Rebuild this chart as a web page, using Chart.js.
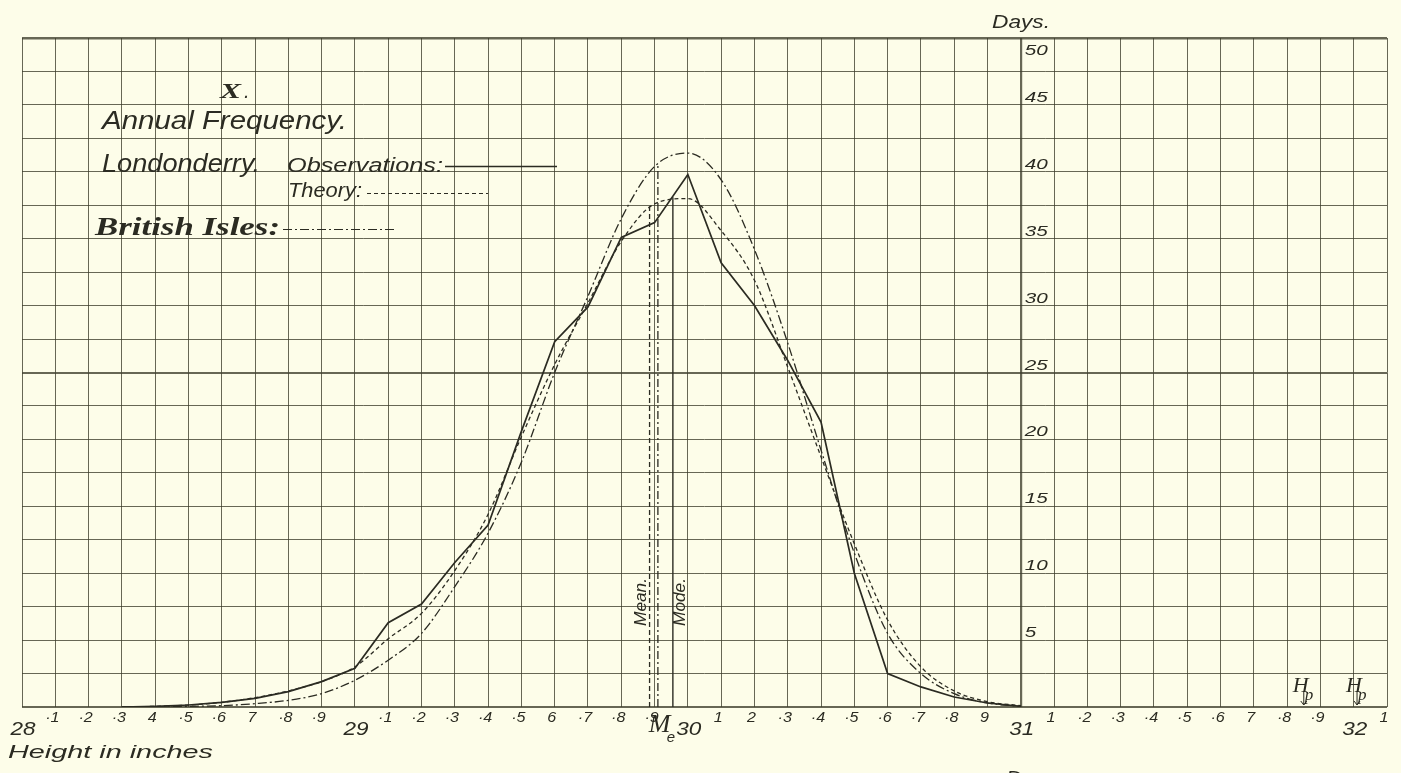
<!DOCTYPE html>
<html>
<head>
<meta charset="utf-8">
<title>Annual Frequency - Londonderry</title>
<script src="https://cdn.jsdelivr.net/npm/chart.js@4.4.0/dist/chart.umd.min.js"></script>
<style>
  html, body { margin: 0; padding: 0; background: #fdfde9; }
  canvas { display: block; }
</style>
</head>
<body>
<canvas id="c" width="1401" height="773"></canvas>
<script>
// Barometer height (inches) against number of days
const heights = [28.3, 28.4, 28.5, 28.6, 28.7, 28.8, 28.9, 29.0, 29.1, 29.2, 29.3, 29.4, 29.5, 29.6,
                 29.7, 29.8, 29.9, 30.0, 30.1, 30.2, 30.3, 30.4, 30.5, 30.6, 30.7, 30.8, 30.9, 31.0];
const observations = [0, 0.05, 0.15, 0.35, 0.65, 1.15, 1.9, 2.9, 6.3, 7.7, 10.8, 13.6, 20.6, 27.3,
                      29.9, 35.1, 36.2, 39.8, 33.2, 30.0, 25.9, 21.3, 10.0, 2.5, 1.5, 0.75, 0.3, 0.05];
const theory = [0, 0.05, 0.15, 0.35, 0.7, 1.2, 1.9, 3.0, 5.1, 7.0, 10.2, 14.4, 20.2, 25.6,
                30.2, 34.8, 37.6, 38.0, 35.6, 31.9, 25.4, 18.7, 12.2, 6.5, 3.0, 1.2, 0.4, 0.1];
const britishIsles = [0, 0, 0.05, 0.1, 0.25, 0.5, 1.0, 2.0, 3.5, 5.5, 9.0, 13.0, 18.3, 25.0,
                      30.7, 36.5, 40.4, 41.4, 39.4, 34.2, 27.2, 19.2, 11.5, 5.5, 2.5, 1.0, 0.3, 0.05];

// mean, median (Me) and mode ordinates: [height, days at top]
const meanLine = [29.885, 37.4];
const medianLine = [29.91, 40.5];
const modeLine = [29.955, 38.1];
const hpMarks = [31.85, 32.01];

// axis ticks
const xTickValues = [28, 28.1, 28.2, 28.3, 28.4, 28.5, 28.6, 28.7, 28.8, 28.9, 29, 29.1, 29.2, 29.3,
                     29.4, 29.5, 29.6, 29.7, 29.8, 29.9, 30, 30.1, 30.2, 30.3, 30.4, 30.5, 30.6, 30.7,
                     30.8, 30.9, 31, 31.1, 31.2, 31.3, 31.4, 31.5, 31.6, 31.7, 31.8, 31.9, 32, 32.1];
const xTickText = ['28', '·1', '·2', '·3', '4', '·5', '·6', '7', '·8', '·9', '29', '·1', '·2', '·3',
                   '·4', '·5', '6', '·7', '·8', '·9', '30', '1', '2', '·3', '·4', '·5', '·6', '·7',
                   '·8', '9', '31', '1', '·2', '·3', '·4', '·5', '·6', '7', '·8', '·9', '32', '1'];
const dayTicks = [5, 10, 15, 20, 25, 30, 35, 40, 45, 50];

const PAPER = '#fdfde9';
const INK = '#2b2b22';
const GRID = 'rgba(60,60,44,0.78)';
const SANS = (px) => `italic ${px}px "Liberation Sans", "DejaVu Sans", sans-serif`;
const SERIF_B = (px) => `italic bold ${px}px "Liberation Serif", "DejaVu Serif", serif`;
const SERIF = (px) => `italic ${px}px "Liberation Serif", "DejaVu Serif", serif`;

const pts = (ys) => heights.map((h, i) => ({ x: h, y: ys[i] }));
const vline = (l) => [{ x: l[0], y: 0 }, { x: l[0], y: l[1] }];
const near = (a, b) => Math.abs(a - b) < 1e-6;

// text squeezed/stretched to a given width
function fitText(ctx, str, font, x0, x1, base) {
  ctx.font = font;
  const w = ctx.measureText(str).width;
  ctx.save();
  ctx.translate(x0, base);
  ctx.scale((x1 - x0) / w, 1);
  ctx.fillText(str, 0, 0);
  ctx.restore();
}

// text centred on cx, widened by sx
function wideText(ctx, str, font, cx, base, sx) {
  ctx.font = font;
  const w = ctx.measureText(str).width * sx;
  ctx.save();
  ctx.translate(cx - w / 2, base);
  ctx.scale(sx, 1);
  ctx.fillText(str, 0, 0);
  ctx.restore();
}

const paper = {
  id: 'paper',
  beforeDraw(chart) {
    const ctx = chart.ctx;
    ctx.save();
    ctx.fillStyle = PAPER;
    ctx.fillRect(0, 0, chart.width, chart.height);
    ctx.restore();
  }
};

const lettering = {
  id: 'lettering',
  afterDraw(chart) {
    const { ctx } = chart;
    const { x, y } = chart.scales;
    ctx.save();
    ctx.fillStyle = INK;
    ctx.strokeStyle = INK;
    ctx.textBaseline = 'alphabetic';

    // height labels under the axis
    xTickValues.forEach((v, i) => {
      const px = x.getPixelForValue(v);
      if (Number.isInteger(v)) {
        wideText(ctx, xTickText[i], SANS(18), px + 1, y.bottom + 28, 1.25);
      } else {
        wideText(ctx, xTickText[i], SANS(14), px - 3, y.bottom + 15, 1.15);
      }
    });
    const p30 = x.getPixelForValue(30);
    ctx.font = SERIF(26);
    ctx.fillText('M', p30 - 39, y.bottom + 25);
    ctx.font = SANS(15);
    ctx.fillText('e', p30 - 21, y.bottom + 35);
    fitText(ctx, 'Height in inches', SANS(19), 8, 213, y.bottom + 51);

    // day labels beside the 31 inch line
    const p31 = x.getPixelForValue(31);
    dayTicks.forEach(v => {
      const py = y.getPixelForValue(v);
      const base = v === 50 ? py + 17 : py - 3;
      const s = String(v);
      fitText(ctx, s, SANS(15), p31 + 4, p31 + 4 + 11.5 * s.length, base);
    });
    fitText(ctx, 'Days.', SANS(19), 992, 1050, 28);
    fitText(ctx, 'Days.', SANS(19), 1006, 1062, 784);

    // H_p marks
    hpMarks.forEach(v => {
      const px = x.getPixelForValue(v);
      ctx.font = SERIF(22);
      ctx.fillText('H', px - 11, y.bottom - 15);
      ctx.font = SERIF(17);
      ctx.fillText('p', px + 1, y.bottom - 7);
      ctx.lineWidth = 1;
      ctx.beginPath();
      ctx.moveTo(px, y.bottom - 16);
      ctx.lineTo(px, y.bottom - 2);
      ctx.moveTo(px - 3, y.bottom - 6);
      ctx.lineTo(px, y.bottom - 2);
      ctx.lineTo(px + 3, y.bottom - 6);
      ctx.stroke();
    });

    // Mean / Mode written up the ordinates
    [['Mean.', meanLine[0], -9], ['Mode.', modeLine[0], 7]].forEach(([t, v, dx]) => {
      ctx.save();
      ctx.translate(x.getPixelForValue(v) + dx + 5, 602);
      ctx.rotate(-Math.PI / 2);
      fitText(ctx, t, SANS(16), -24, 24, 0);
      ctx.restore();
    });

    // title block and key
    fitText(ctx, 'X', SERIF_B(22), 220, 241, 98);
    ctx.font = SANS(20);
    ctx.fillText('.', 244, 98);
    fitText(ctx, 'Annual Frequency.', SANS(25), 102, 347, 129);
    fitText(ctx, 'Londonderry.', SANS(25), 102, 260, 172);
    fitText(ctx, 'Observations:', SANS(20), 287, 443, 172);
    fitText(ctx, 'Theory:', SANS(20), 288, 362, 197);
    fitText(ctx, 'British Isles:', SERIF_B(25), 95, 280, 235);

    const key = (x0, x1, yy, dash, w) => {
      ctx.save();
      ctx.lineWidth = w;
      ctx.setLineDash(dash);
      ctx.beginPath();
      ctx.moveTo(x0, yy);
      ctx.lineTo(x1, yy);
      ctx.stroke();
      ctx.restore();
    };
    key(445, 557, 166.5, [], 1.6);
    key(367, 488, 193.5, [4, 3], 1.2);
    key(283, 395, 229.5, [9, 3, 2, 3], 1.2);

    ctx.restore();
  }
};

new Chart(document.getElementById('c'), {
  type: 'line',
  data: {
    datasets: [
      { label: 'Observations', data: pts(observations), borderColor: INK, borderWidth: 1.7 },
      { label: 'Theory', data: pts(theory), borderColor: INK, borderWidth: 1.3,
        borderDash: [4, 3], cubicInterpolationMode: 'monotone' },
      { label: 'British Isles', data: pts(britishIsles), borderColor: INK, borderWidth: 1.3,
        borderDash: [9, 3, 2, 3], cubicInterpolationMode: 'monotone' },
      { label: 'Mean', data: vline(meanLine), borderColor: INK, borderWidth: 1.3, borderDash: [5, 3] },
      { label: 'Me', data: vline(medianLine), borderColor: INK, borderWidth: 1.3, borderDash: [8, 3, 2, 3] },
      { label: 'Mode', data: vline(modeLine), borderColor: INK, borderWidth: 1.4 }
    ]
  },
  options: {
    responsive: false,
    animation: false,
    devicePixelRatio: 1,
    layout: { padding: { left: 22, right: 14, top: 38, bottom: 66 } },
    elements: { point: { radius: 0 }, line: { fill: false } },
    plugins: { legend: { display: false }, tooltip: { enabled: false } },
    scales: {
      x: {
        type: 'linear', min: 28, max: 32.1,
        ticks: { display: false, stepSize: 0.1, autoSkip: false },
        border: { display: false },
        grid: {
          drawTicks: false, color: GRID,
          lineWidth: (c) => near(c.tick.value, 31) ? 2.2 : 1
        }
      },
      y: {
        type: 'linear', min: 0, max: 50,
        ticks: { display: false, stepSize: 2.5 },
        border: { display: false },
        grid: {
          drawTicks: false, color: GRID,
          lineWidth: (c) => {
            const v = c.tick.value;
            if (near(v, 50)) return 2.6;
            if (near(v, 25) || near(v, 0)) return 2;
            return 1;
          }
        }
      }
    }
  },
  plugins: [paper, lettering]
});
</script>
</body>
</html>
